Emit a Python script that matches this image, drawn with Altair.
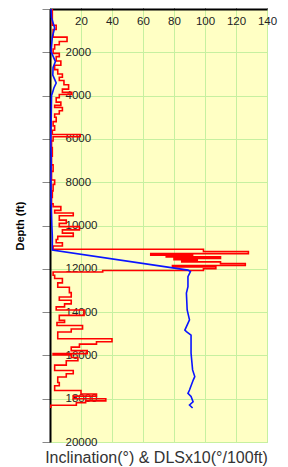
import altair as alt
import pandas as pd

# DLS x10 (red, stepped) : depth (ft) where each value starts
red_depth = [0, 750, 950, 1300, 1500, 1650, 1850, 2050, 2200, 2400, 2600, 2800, 3000, 3150,
             3300, 3500, 3700, 3850, 3950, 4100, 4300, 4450, 4550, 4700, 4850, 5000, 5200,
             5400, 5600, 5800, 5900, 6100, 6400, 6800, 7200, 7500, 7900, 8100, 8400, 8700,
             9000, 9130, 9300, 9420, 9550, 9750, 9900, 10050, 10200, 10350, 10500, 10650,
             10800, 10950, 11100, 11200, 11300, 11370, 11410, 11450, 11520, 11580, 11640,
             11680, 11760, 11850, 11920, 12000, 12080, 12150, 12300, 12450, 12650, 12850,
             13100, 13300, 13450, 13620, 13760, 13900, 14150, 14380, 14480, 14620, 14780,
             14920, 15230, 15370, 15480, 15620, 15780, 15920, 15980, 16100, 16250, 16450,
             16700, 16850, 17000, 17250, 17400, 17620, 17780, 17880, 18000, 18100, 18180,
             18300, 18430]
red_val = [1.5, 4, 2, 11, 6, 3, 2, 6, 4, 7, 3, 5, 8, 6,
           9, 12, 8, 14, 6, 4, 7, 3, 8, 6, 3, 4, 2,
           3, 1.5, 19.5, 2, 1, 1.5, 1, 2, 1, 3, 2, 1.5, 1,
           2, 7, 3, 15, 6, 10.5, 6, 19, 8, 15, 5, 4,
           8, 2, 99, 128, 65, 92, 75, 110, 80, 95, 85,
           110, 126, 79, 107, 99, 34, 2, 3, 8, 5, 12.5,
           13.7, 6, 13.7, 9.4, 4, 22, 6, 9.4, 4.5, 21, 13.7,
           5, 40, 30, 19, 13.7, 24, 2, 13.7, 18, 10.5, 3,
           15, 10.5, 5, 6, 3, 20, 30, 15, 36, 23, 17,
           0.5, 0.5]

# Inclination (blue)
blue_depth = [0, 400, 880, 1300, 1970, 2430, 2700, 3050, 3250, 3420, 3650, 3820, 4000,
              5000, 6000, 7000, 8000, 9000, 10000, 10500, 11130, 12060, 12130, 12360,
              12830, 13120, 13900, 14360, 14830, 14900, 15060, 15900, 16670, 16980, 17140,
              17600, 17750, 17900, 18140, 18290, 18430]
blue_val = [0.7, 1, 3, 1.5, 0.7, 3.5, 2, 1.8, 3, 4, 2.5, 1.8, 1,
            0.8, 0.5, 0.8, 0.6, 0.8, 1.2, 1.5, 1.5, 89, 90.6, 89,
            89, 88, 88.5, 90, 87, 88, 91, 91, 92, 93.4, 92.4,
            90, 89, 91, 92.3, 90, 92]

x_ticks = [0, 20, 40, 60, 80, 100, 120, 140]
y_ticks = [0, 2000, 4000, 6000, 8000, 10000, 12000, 14000, 16000, 18000, 20000]

dls = pd.DataFrame({"depth": red_depth, "value": red_val})
inc = pd.DataFrame({"depth": blue_depth, "value": blue_val})

FONT = "Liberation Sans"
GRID = "#c6f0a0"

x_scale = alt.Scale(domain=[0, 140], nice=False)
y_scale = alt.Scale(domain=[0, 20000], reverse=True, nice=False)

x_axis = alt.Axis(orient="top", values=x_ticks, title=None,
                  labelExpr="datum.value == 0 ? '' : datum.label",
                  tickSize=6, tickColor="#888888", labelPadding=-12,
                  labelBaseline="top", labelFlush=False, labelOverlap=False,
                  labelFont=FONT, labelFontSize=11.5, labelColor="#222222",
                  domainColor="black", domainWidth=2, gridColor=GRID, gridWidth=1)
y_axis = alt.Axis(orient="left", values=y_ticks, format="d",
                  labelExpr="datum.value == 0 ? '' : datum.label",
                  tickSize=8, tickColor="#888888", labelAlign="left",
                  labelPadding=-23, labelBaseline="middle", labelFlush=False,
                  labelOverlap=False,
                  labelFont=FONT, labelFontSize=11.5, labelColor="#222222",
                  domainColor="black", domainWidth=2, gridColor=GRID, gridWidth=1,
                  title="Depth (ft)", titleFont=FONT, titleFontSize=11,
                  titleFontWeight="bold", titleColor="black", titlePadding=16)

red = alt.Chart(dls).mark_line(color="#ff0000", strokeWidth=1.6,
                               interpolate="step-before").encode(
    x=alt.X("value:Q", scale=x_scale, axis=x_axis),
    y=alt.Y("depth:Q", scale=y_scale, axis=y_axis),
    order=alt.Order("depth:Q"),
)
blue = alt.Chart(inc).mark_line(color="#0a14ff", strokeWidth=1.6).encode(
    x=alt.X("value:Q", scale=x_scale, axis=x_axis),
    y=alt.Y("depth:Q", scale=y_scale, axis=y_axis),
    order=alt.Order("depth:Q"),
)

chart = alt.layer(red, blue).properties(
    width=217, height=433,
    autosize=alt.AutoSizeParams(type="none"),
    padding={"left": 42, "top": 1, "right": 13, "bottom": 25},
    title=alt.TitleParams("Inclination(°) & DLSx10(°/100ft)", orient="bottom",
                          anchor="middle", frame="group", font=FONT, fontSize=16,
                          fontWeight="normal", color="#333333", offset=2, dx=-2),
).configure_view(fill="#ffffc4", stroke="#bbbbbb")

chart.save("out.html", embed_options={"renderer": "svg", "actions": False})
